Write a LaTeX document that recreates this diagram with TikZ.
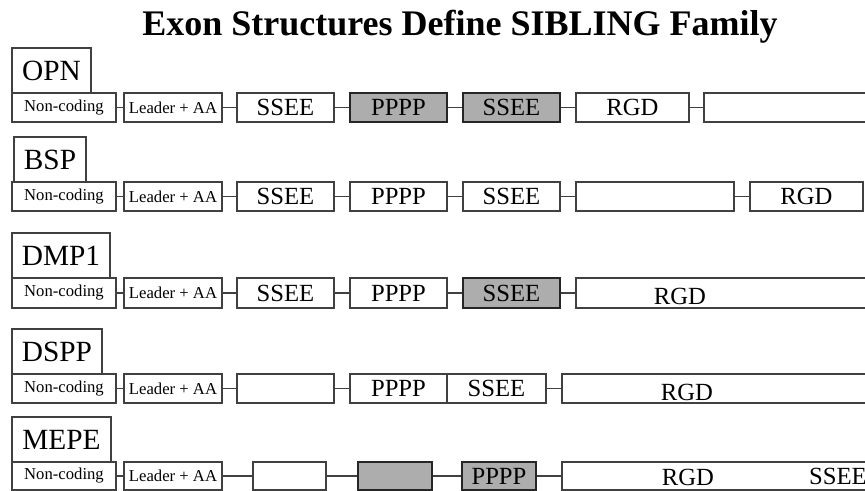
\documentclass[tikz,border=0pt]{standalone}
\usepackage{fontspec}
\setmainfont{Liberation Serif}
\usetikzlibrary{fit}
\tikzset{
  exon/.style={draw=black!75, line width=0.8pt, inner sep=0pt},
  shaded/.style={exon, fill=black!32, draw=black!85, line width=1.1pt},
  big/.style={inner sep=0pt, font=\fontsize{18.5}{20}\selectfont},
  small/.style={inner sep=0pt, font=\fontsize{12.5}{14}\selectfont},
  genename/.style={inner sep=0pt, font=\fontsize{22}{24}\selectfont},
  exontext/.style={big, anchor=base},
  link/.style={draw=black!75, line width=0.8pt}
}
\begin{document}
\begin{tikzpicture}[x=0.75pt, y=-0.75pt]
      \useasboundingbox (0,0) rectangle (865,491);
      \node[anchor=base, font=\bfseries\fontsize{27}{30}\selectfont] (title) at (460,36) {Exon Structures Define SIBLING Family};
      %
      \node[exon, fit={(12,48)(91,93)}, label={[genename]center:OPN}] (opn) {};            % OPN
      \node[exon, fit={(12,93)(116,122)}, label={[small]center:Non-coding}] (opn1) {};
      \node[exon, fit={(124,93)(222,122)}, label={[small]center:Leader + AA}] (opn2) {};
      \node[exon, fit={(237,93)(334,122)}, label={[big]center:SSEE}] (opn3) {};
      \node[shaded, fit={(350,93)(447,122)}, label={[big]center:PPPP}] (opn4) {};
      \node[shaded, fit={(463,93)(560,122)}, label={[big]center:SSEE}] (opn5) {};
      \node[exon, fit={(576,93)(689,122)}, label={[big]center:RGD}] (opn6) {};
      \node[exon, fit={(704,93)(880,122)}] (opn7) {};
      \draw[link] (opn1) -- (opn2);
      \draw[link] (opn2) -- (opn3);
      \draw[link] (opn3) -- (opn4);
      \draw[link] (opn4) -- (opn5);
      \draw[link] (opn5) -- (opn6);
      \draw[link] (opn6) -- (opn7);
      %
      \node[exon, fit={(14,137)(86,182)}, label={[genename]center:BSP}] (bsp) {};           % BSP
      \node[exon, fit={(12,182)(116,211)}, label={[small]center:Non-coding}] (bsp1) {};
      \node[exon, fit={(124,182)(222,211)}, label={[small]center:Leader + AA}] (bsp2) {};
      \node[exon, fit={(237,182)(334,211)}, label={[big]center:SSEE}] (bsp3) {};
      \node[exon, fit={(350,182)(447,211)}, label={[big]center:PPPP}] (bsp4) {};
      \node[exon, fit={(463,182)(560,211)}, label={[big]center:SSEE}] (bsp5) {};
      \node[exon, fit={(576,182)(734,211)}] (bsp6) {};
      \node[exon, fit={(750,182)(863,211)}, label={[big]center:RGD}] (bsp7) {};
      \draw[link] (bsp1) -- (bsp2);
      \draw[link] (bsp2) -- (bsp3);
      \draw[link] (bsp3) -- (bsp4);
      \draw[link] (bsp4) -- (bsp5);
      \draw[link] (bsp5) -- (bsp6);
      \draw[link] (bsp6) -- (bsp7);
      %
      \node[exon, fit={(12,233)(110,278)}, label={[genename]center:DMP1}] (dmp) {};         % DMP1
      \node[exon, fit={(12,278)(116,308)}, label={[small]center:Non-coding}] (dmp1) {};
      \node[exon, fit={(124,278)(222,308)}, label={[small]center:Leader + AA}] (dmp2) {};
      \node[exon, fit={(237,278)(334,308)}, label={[big]center:SSEE}] (dmp3) {};
      \node[exon, fit={(350,278)(447,308)}, label={[big]center:PPPP}] (dmp4) {};
      \node[shaded, fit={(463,278)(560,308)}, label={[big]center:SSEE}] (dmp5) {};
      \node[exon, fit={(576,278)(880,308)}] (dmp6) {};
      \node[exontext] (dmprgd) at (680,305) {RGD};
      \draw[link] (dmp1) -- (dmp2);
      \draw[link] (dmp2) -- (dmp3);
      \draw[link] (dmp3) -- (dmp4);
      \draw[link] (dmp4) -- (dmp5);
      \draw[link] (dmp5) -- (dmp6.west);
      %
      \node[exon, fit={(12,329)(102,374)}, label={[genename]center:DSPP}] (dspp) {};        % DSPP
      \node[exon, fit={(12,374)(116,403)}, label={[small]center:Non-coding}] (dspp1) {};
      \node[exon, fit={(124,374)(222,403)}, label={[small]center:Leader + AA}] (dspp2) {};
      \node[exon, fit={(237,374)(334,403)}] (dspp3) {};
      \node[exon, fit={(350,374)(447,403)}, label={[big]center:PPPP}] (dspp4) {};
      \node[exon, fit={(447,374)(546,403)}, label={[big]center:SSEE}] (dspp5) {};
      \node[exon, fit={(562,374)(880,403)}] (dspp6) {};
      \node[exontext] (dspprgd) at (687,401) {RGD};
      \draw[link] (dspp1) -- (dspp2);
      \draw[link] (dspp2) -- (dspp3);
      \draw[link] (dspp3) -- (dspp4);
      \draw[link] (dspp5) -- (dspp6.west);
      %
      \node[exon, fit={(12,417)(111,462)}, label={[genename]center:MEPE}] (mepe) {};        % MEPE
      \node[exon, fit={(12,462)(116,490)}, label={[small]center:Non-coding}] (mepe1) {};
      \node[exon, fit={(124,462)(222,490)}, label={[small]center:Leader + AA}] (mepe2) {};
      \node[exon, fit={(253,462)(326,490)}] (mepe3) {};
      \node[shaded, fit={(358,462)(432,490)}] (mepe4) {};
      \node[shaded, fit={(462,462)(536,490)}, label={[big]center:PPPP}] (mepe5) {};
      \node[exon, fit={(562,462)(880,490)}] (mepe6) {};
      \node[exontext] (mepergd) at (688,486) {RGD};
      \node[exontext] (mepessee) at (838,485) {SSEE};
      \draw[link] (mepe1) -- (mepe2);
      \draw[link] (mepe2) -- (mepe3);
      \draw[link] (mepe3) -- (mepe4);
      \draw[link] (mepe4) -- (mepe5);
      \draw[link] (mepe5) -- (mepe6.west);
      %
    \end{tikzpicture}
\end{document}
